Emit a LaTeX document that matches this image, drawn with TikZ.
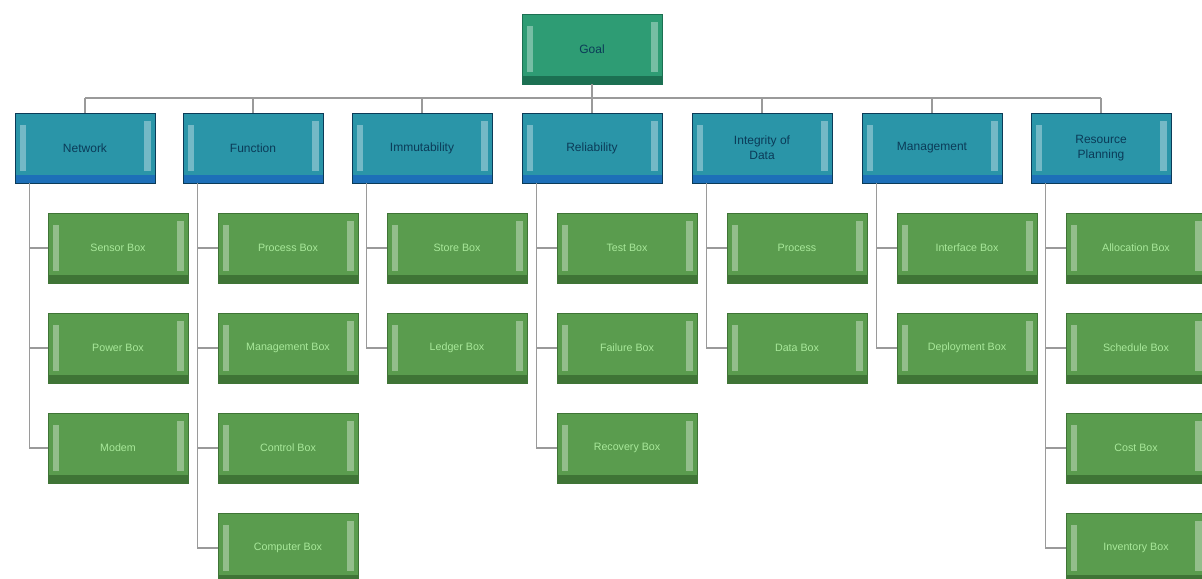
\documentclass[tikz,border=0pt]{standalone}
\usepackage{fontspec}
\setmainfont{Liberation Sans}
\definecolor{rootfill}{HTML}{2E9C74}
\definecolor{rootdark}{HTML}{1C7052}
\definecolor{catfill}{HTML}{2A95A8}
\definecolor{catdark}{HTML}{1D6FB8}
\definecolor{cattext}{HTML}{0B3B58}
\definecolor{leaffill}{HTML}{5A9C4E}
\definecolor{leafdark}{HTML}{3F7436}
\definecolor{leaftext}{HTML}{A8E89A}
\definecolor{linkgray}{HTML}{9A9A9A}
\begin{document}
\begin{tikzpicture}[x=0.75pt,y=-0.75pt,
	link/.style={draw=linkgray,line width=1.1pt},
	box/.style={rectangle,minimum width=105pt,minimum height=52.5pt,inner sep=2pt,align=center,
		path picture={
		\fill[#1] (path picture bounding box.south west) rectangle ([yshift=6pt]path picture bounding box.south east);
		\fill[white,opacity=.35] ([xshift=4pt,yshift=9pt]path picture bounding box.south west) rectangle ([xshift=8pt,yshift=-9pt]path picture bounding box.north west);
		\fill[white,opacity=.35] ([xshift=-8pt,yshift=9pt]path picture bounding box.south east) rectangle ([xshift=-3pt,yshift=-6pt]path picture bounding box.north east);}},
	rootbox/.style={box=rootdark,fill=rootfill,draw=rootdark,text=cattext,font=\small},
	catbox/.style={box=catdark,fill=catfill,draw=cattext,text=cattext,font=\small},
	leafbox/.style={box=leafdark,fill=leaffill,draw=leafdark,text=leaftext,font=\footnotesize}]
\useasboundingbox (0,0) rectangle (1202,578);
% top
\node[rootbox] (root) at (592,49) {Goal};
\coordinate (busL) at (85,98);
\coordinate (busR) at (1101,98);
% second level
\node[catbox] (net) at (85,148) {Network};
\node[catbox] (fun) at (253,148) {Function};
\node[catbox] (imm) at (422,148) {Immutability};
\node[catbox] (rel) at (592,148) {Reliability};
\node[catbox] (int) at (762,148) {Integrity of\\Data};
\node[catbox] (man) at (932,148) {Management};
\node[catbox] (res) at (1101,148) {Resource\\Planning};
% leaves
\node[leafbox] (net1) at (118,248) {Sensor Box};
\node[leafbox] (net2) at (118,348) {Power Box};
\node[leafbox] (net3) at (118,448) {Modem};
\node[leafbox] (fun1) at (288,248) {Process Box};
\node[leafbox] (fun2) at (288,348) {Management Box};
\node[leafbox] (fun3) at (288,448) {Control Box};
\node[leafbox] (fun4) at (288,548) {Computer Box};
\node[leafbox] (imm1) at (457,248) {Store Box};
\node[leafbox] (imm2) at (457,348) {Ledger Box};
\node[leafbox] (rel1) at (627,248) {Test Box};
\node[leafbox] (rel2) at (627,348) {Failure Box};
\node[leafbox] (rel3) at (627,448) {Recovery Box};
\node[leafbox] (int1) at (797,248) {Process};
\node[leafbox] (int2) at (797,348) {Data Box};
\node[leafbox] (man1) at (967,248) {Interface Box};
\node[leafbox] (man2) at (967,348) {Deployment Box};
\node[leafbox] (res1) at (1136,248) {Allocation Box};
\node[leafbox] (res2) at (1136,348) {Schedule Box};
\node[leafbox] (res3) at (1136,448) {Cost Box};
\node[leafbox] (res4) at (1136,548) {Inventory Box};
% connectors
\draw[link] (root.south) -- (root.south |- busL);
\draw[link] (busL) -- (busR);
\foreach \c in {net,fun,imm,rel,int,man,res}
	\draw[link] (\c.north) -- (\c.north |- busL);
\foreach \c/\n in {net/3,fun/4,imm/2,rel/3,int/2,man/2,res/4}
	\foreach \k in {1,...,\n}
		\draw[link] ([xshift=11pt]\c.south west) |- (\c\k.west);
\end{tikzpicture}
\end{document}
